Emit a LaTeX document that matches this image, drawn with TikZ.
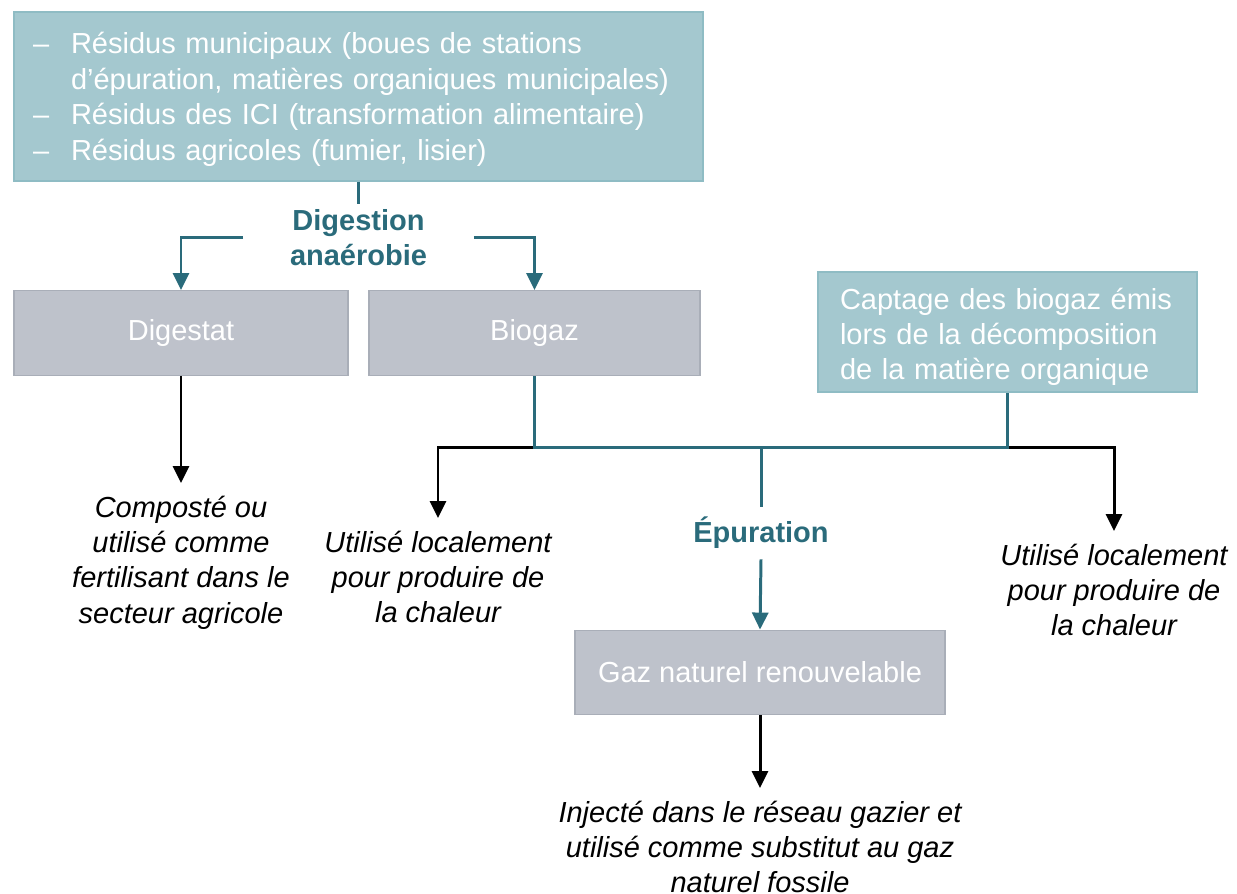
\documentclass[tikz,border=0pt]{standalone}
\usepackage{fontspec}
\setmainfont{Liberation Sans}
\usetikzlibrary{arrows.meta}
\definecolor{boxteal}{HTML}{A4C8CF}
\definecolor{edgeteal}{HTML}{8FBCC4}
\definecolor{boxgray}{HTML}{BEC2CB}
\definecolor{edgegray}{HTML}{A9AEB8}
\definecolor{darkteal}{HTML}{2A6B7B}
\newcommand{\dashitem}{\makebox[0.76cm][l]{–}}
\begin{document}
\begin{tikzpicture}[x=0.02cm,y=-0.02cm,
  every node/.style={font=\fontsize{16.5}{20}\selectfont},
  srcbox/.style={draw=edgeteal,fill=boxteal,line width=0.8pt,text=white,align=left},
  prodbox/.style={draw=edgegray,fill=boxgray,line width=0.8pt,text=white,minimum height=1.69cm},
  steplabel/.style={text=darkteal,font=\fontsize{16.5}{20}\selectfont\bfseries,align=center},
  usetext/.style={font=\fontsize{16.5}{20}\selectfont\itshape,align=center,anchor=north,inner xsep=0,inner ysep=0.26cm},
  flow/.style={darkteal,line width=1.7pt},
  outflow/.style={black,line width=1.7pt},
  tip/.style={-{Triangle[length=0.34cm,width=0.32cm]}}]
\useasboundingbox (0,0) rectangle (1237,893);
\node[srcbox,minimum width=13.78cm,minimum height=3.38cm,text width=13.02cm,inner xsep=0.38cm,
  font=\fontsize{16.5}{20.2}\selectfont] (src) at (358.5,96.5)
  {\rule{0pt}{0.54cm}\dashitem Résidus municipaux (boues de stations\\
   \hspace*{0.76cm}d’épuration, matières organiques municipales)\\
   \dashitem Résidus des ICI (transformation alimentaire)\\
   \dashitem Résidus agricoles (fumier, lisier)};
\node[srcbox,minimum width=7.58cm,minimum height=2.4cm,text width=6.7cm,inner xsep=0.44cm] (cap) at (1007.5,332)
  {\rule{0pt}{0.62cm}Captage des biogaz émis\\ lors de la décomposition\\ de la matière organique};
\node[steplabel,inner xsep=0.93cm,inner ysep=0.1cm] (da) at (358.5,237.5) {Digestion\\ anaérobie};
\node[prodbox,minimum width=6.68cm] (dig) at (181,333) {Digestat};
\node[prodbox,minimum width=6.62cm] (bio) at (534.5,333) {Biogaz};
\node[steplabel,minimum height=1.04cm,inner ysep=0] (ep) at (761,533) {Épuration};
\node[prodbox,minimum width=7.4cm] (gnr) at (760,672.5) {Gaz naturel renouvelable};
\coordinate (hub) at (761,447);
\node[usetext] (comp) at (181,483) {Composté ou\\ utilisé comme\\ fertilisant dans le\\ secteur agricole};
\node[usetext] (loc1) at (438,518) {Utilisé localement\\ pour produire de\\ la chaleur};
\node[usetext] (loc2) at (1114,531) {Utilisé localement\\ pour produire de\\ la chaleur};
\node[usetext] (inj) at (760,788) {Injecté dans le réseau gazier et\\ utilisé comme substitut au gaz\\ naturel fossile};
\draw[outflow,tip] (bio.south |- hub) -| (loc1.north);
\draw[outflow,tip] (cap.south |- hub) -| (loc2.north);
\draw[outflow,tip] (dig.south) -- (comp.north);
\draw[outflow,tip] (gnr.south) -- (inj.north);
\draw[flow] (src.south) -- (da.north);
\draw[flow,tip] (da.west) -| (dig.north);
\draw[flow,tip] (da.east) -| (bio.north);
\draw[flow] (bio.south) |- (hub) -| (cap.south);
\draw[flow] (hub) -- (ep.north);
\draw[flow,tip] (ep.south) -- (gnr.north);
\end{tikzpicture}
\end{document}
